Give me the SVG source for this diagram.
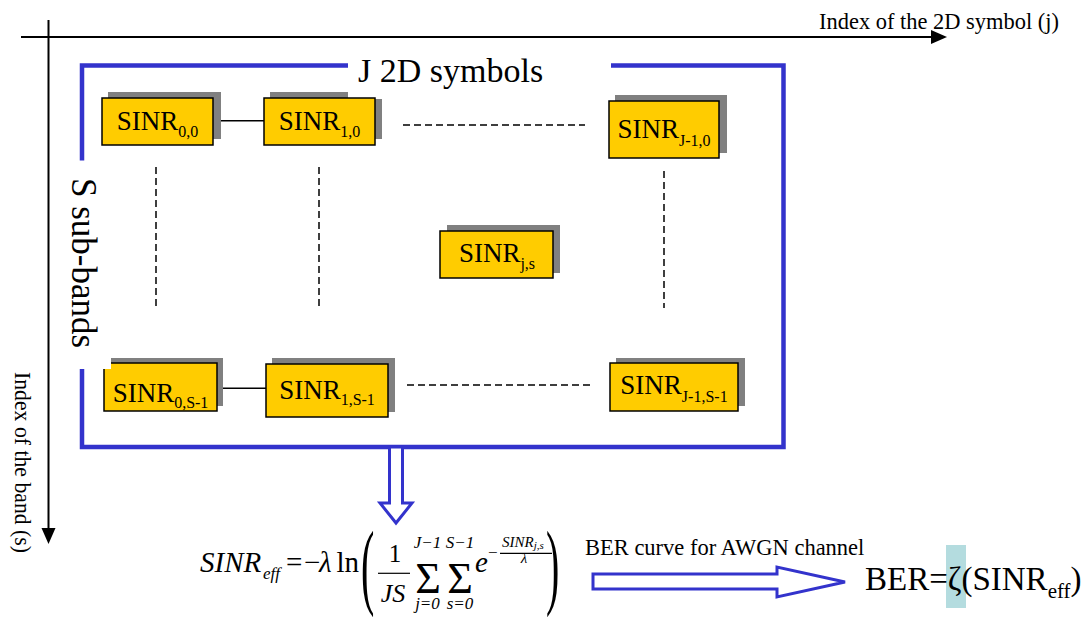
<svg xmlns="http://www.w3.org/2000/svg" width="1091" height="621" viewBox="0 0 1091 621">
<style>
.t{font-family:"Liberation Serif","Times New Roman",serif;fill:#000}
.it{font-style:italic}
.box{fill:#FFCC00;stroke:#000;stroke-width:1.5}
.shadow{fill:#808080}
.frame{fill:none;stroke:#3333CC;stroke-width:4.5}
.hollow{fill:#fff;stroke:#3333CC;stroke-width:3;stroke-linejoin:miter}
.solid{stroke:#000;stroke-width:1.5;fill:none}
.dash{stroke:#000;stroke-width:1.5;fill:none;stroke-dasharray:7 4}
.axis{stroke:#000;stroke-width:2;fill:none}
.bar{stroke:#000;stroke-width:1.2}
</style>
<rect width="1091" height="621" fill="#fff"/>

<g id="axes">
<line class="axis" x1="21" y1="37" x2="933" y2="37"/>
<polygon points="931,30 947,37 931,44" fill="#000"/>
<text class="t" x="819" y="29" font-size="23.5" textLength="240" lengthAdjust="spacingAndGlyphs">Index of the 2D symbol (j)</text>
<line class="axis" x1="48.5" y1="20" x2="48.5" y2="530"/>
<polygon points="41.5,528 48.5,544 55.5,528" fill="#000"/>
<text class="t" transform="translate(15,372) rotate(90)" font-size="23.5" textLength="181" lengthAdjust="spacingAndGlyphs">Index of the band (s)</text>
</g>

<g id="frame">
<path class="frame" d="M348,65.5 H82 V160.5"/>
<path class="frame" d="M82,369 V447 H783.5 V65.5 H611"/>
<text class="t" x="358" y="82" font-size="34">J 2D symbols</text>
</g>

<g id="connectors">
<line class="solid" x1="213" y1="120.7" x2="264" y2="120.7"/>
<line class="solid" x1="217" y1="388.3" x2="266" y2="388.3"/>
<line class="dash" x1="403" y1="125" x2="585" y2="125"/>
<line class="dash" x1="407" y1="385" x2="590" y2="385"/>
<line class="dash" x1="156" y1="167" x2="156" y2="308"/>
<line class="dash" x1="319" y1="167" x2="319" y2="308"/>
<line class="dash" x1="664" y1="171" x2="664" y2="308"/>
</g>

<g id="n00">
<rect class="shadow" x="108" y="92" width="113" height="47"/>
<rect class="box" x="102" y="98" width="111" height="47"/>
<text class="t" x="157.5" y="130" font-size="27" text-anchor="middle">SINR<tspan font-size="16" dy="6.5">0,0</tspan></text>
</g>
<g id="n10">
<path class="shadow" d="M270,92 H348 V99 H382 V139 H270 Z"/>
<rect class="box" x="264" y="98" width="111" height="47"/>
<text class="t" x="319.5" y="130" font-size="27" text-anchor="middle">SINR<tspan font-size="16" dy="6.5">1,0</tspan></text>
</g>
<g id="nJ0">
<rect class="shadow" x="615" y="95" width="112" height="58"/>
<rect class="box" x="609" y="101" width="110" height="57"/>
<text class="t" x="664" y="138" font-size="27" text-anchor="middle">SINR<tspan font-size="16" dy="8">J-1,0</tspan></text>
</g>
<g id="njs">
<rect class="shadow" x="447" y="225" width="113" height="48"/>
<rect class="box" x="440" y="231" width="113" height="47"/>
<text class="t" x="497" y="262" font-size="27" text-anchor="middle">SINR<tspan font-size="16" dy="6.5">j,s</tspan></text>
</g>
<g id="n0S">
<rect class="shadow" x="111" y="358" width="112" height="48"/>
<rect class="box" x="104" y="363" width="113" height="48"/>
<text class="t" x="160.5" y="401.5" font-size="27" text-anchor="middle">SINR<tspan font-size="16" dy="6.5">0,S-1</tspan></text>
</g>
<g id="n1S">
<rect class="shadow" x="272" y="358" width="123" height="54"/>
<rect class="box" x="266" y="364" width="122" height="53"/>
<text class="t" x="327" y="398.5" font-size="27" text-anchor="middle">SINR<tspan font-size="16" dy="6.5">1,S-1</tspan></text>
</g>
<g id="nJS">
<rect class="shadow" x="616" y="358" width="129" height="48"/>
<rect class="box" x="610" y="363" width="128" height="48"/>
<text class="t" x="674" y="393.5" font-size="27" text-anchor="middle">SINR<tspan font-size="16" dy="8">J-1,S-1</tspan></text>
</g>

<g id="sublabel">
<rect x="66" y="161" width="45" height="208" fill="#fff"/>
<text class="t" transform="translate(72,178) rotate(90)" font-size="35">S sub-bands</text>
</g>

<g id="arrows">
<polygon class="hollow" points="389.5,447 389.5,503 380,503 396,523 412,503 402.5,503 402.5,447"/>
<polygon class="hollow" points="593,574 777,574 777,567 845,582 777,597 777,589 593,589"/>
</g>

<g id="formula">
<text class="t it" x="200" y="571.7" font-size="29">SINR</text>
<text class="t it" x="263" y="579" font-size="17">eff</text>
<text class="t" x="286" y="571.7" font-size="29">=</text>
<text class="t" x="304" y="571.7" font-size="29">−</text>
<text class="t it" x="319" y="571.7" font-size="29">λ</text>
<text class="t" x="336.5" y="571.7" font-size="29">ln</text>
<text class="t" transform="translate(361,596.6) scale(1,2.4)" font-size="40">(</text>
<text class="t" x="395" y="561.7" font-size="25" text-anchor="middle">1</text>
<line class="bar" x1="378" y1="573.3" x2="410" y2="573.3"/>
<text class="t it" x="393" y="601.7" font-size="26" text-anchor="middle">JS</text>
<text class="t" x="428" y="593" font-size="44" text-anchor="middle">Σ</text>
<text class="t it" x="427.5" y="548.3" font-size="17" text-anchor="middle">J−1</text>
<text class="t it" x="427.5" y="609" font-size="17" text-anchor="middle">j=0</text>
<text class="t" x="460" y="593" font-size="44" text-anchor="middle">Σ</text>
<text class="t it" x="460" y="548.3" font-size="17" text-anchor="middle">S−1</text>
<text class="t it" x="460" y="609" font-size="17" text-anchor="middle">s=0</text>
<text class="t it" x="475" y="571.7" font-size="29">e</text>
<text class="t" x="488" y="557.5" font-size="17">−</text>
<text class="t it" x="502" y="546.7" font-size="15">SINR<tspan font-size="11" dy="2.5">j,s</tspan></text>
<line class="bar" x1="500" y1="553.3" x2="552" y2="553.3"/>
<text class="t it" x="524" y="563" font-size="15" text-anchor="middle">λ</text>
<text class="t" transform="translate(546,596.6) scale(1,2.4)" font-size="40">)</text>
</g>

<g id="ber">
<text class="t" x="585" y="555" font-size="22.5">BER curve for AWGN channel</text>
<rect x="946" y="545" width="20" height="63" fill="#B4DCDF"/>
<text class="t" x="865" y="590" font-size="33">BER=ζ(SINR<tspan font-size="21" dy="8">eff</tspan><tspan dy="-8">)</tspan></text>
</g>
</svg>
